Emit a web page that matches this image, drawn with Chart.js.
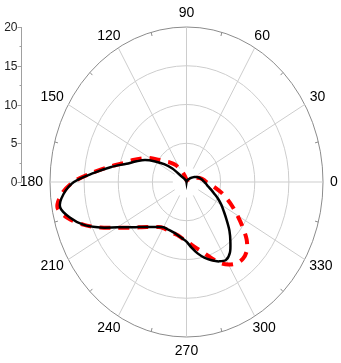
<!DOCTYPE html>
<html>
<head>
<meta charset="utf-8">
<script src="https://cdn.jsdelivr.net/npm/chart.js@4/dist/chart.umd.min.js"></script>
<style>
  body { margin: 0; background: #fff; }
</style>
</head>
<body>
<canvas id="chart" width="341" height="363"></canvas>
<script>
// polar data, angle in degrees (0 = right, counter-clockwise)
const angles = [0, 5, 10, 15, 20, 25, 30, 35, 40, 45, 50, 55, 60, 65, 70, 75, 80, 85,
  90, 95, 100, 105, 110, 115, 120, 125, 130, 135, 140, 145, 150, 155, 160, 165, 170, 175,
  180, 185, 190, 195, 200, 205, 210, 215, 220, 225, 230, 235, 240, 245, 250, 255, 260, 265,
  270, 275, 280, 285, 290, 295, 300, 305, 310, 315, 320, 325, 330, 335, 340, 345, 350, 355];

const solidR = [2.6, 2.4, 2.2, 2.0, 1.8, 1.5, 1.3, 1.0, 0.8, 0.6, 0.45, 0.35, 0.25, 0.2, 0.15, 0.1, 0.05, 0,
  0, 0, 0.05, 0.1, 0.15, 0.2, 0.3, 0.4, 0.6, 1.0, 2.7, 4.0, 5.3, 6.7, 7.8, 9.1, 11.2, 13.6,
  16.5, 18.1, 18.8, 17.7, 16.1, 13.9, 11.7, 10.2, 9.05, 8.2, 7.6, 7.1, 6.75, 6.7, 6.7, 6.8, 7.0, 7.3,
  7.7, 8.5, 9.35, 10.1, 10.75, 11.3, 11.6, 11.1, 10.0, 8.9, 7.7, 6.7, 5.9, 5.1, 4.3, 3.7, 3.2, 2.9];

const dashedR = [2.9, 2.6, 2.3, 2.0, 1.6, 1.3, 1.0, 0.8, 0.6, 0.5, 0.4, 0.35, 0.3, 0.25, 0.2, 0.2, 0.2, 0.2,
  0.2, 0.3, 0.4, 0.7, 1.0, 1.4, 2.0, 2.6, 3.1, 3.6, 4.1, 5.0, 6.2, 7.2, 8.3, 9.5, 11.4, 13.8,
  16.6, 18.4, 19.2, 18.0, 16.1, 13.9, 11.8, 10.3, 9.1, 8.2, 7.6, 7.1, 6.85, 6.8, 6.8, 6.9, 7.0, 7.3,
  7.6, 8.1, 8.7, 9.4, 10.4, 11.5, 12.3, 12.8, 12.9, 12.5, 11.5, 10.0, 8.6, 7.4, 6.3, 5.3, 4.3, 3.5];

const angleLabels = [0, 30, 60, 90, 120, 150, 180, 210, 240, 270, 300, 330];
const radialTicks = [0, 5, 10, 15, 20];
const rMax = 20;

function toXY(rs) {
  const pts = angles.map((a, i) => {
    const t = a * Math.PI / 180;
    return {x: rs[i] * Math.cos(t), y: rs[i] * Math.sin(t)};
  });
  pts.push(pts[0]);
  return pts;
}

const polarGrid = {
  id: 'polarGrid',
  beforeDatasetsDraw(chart) {
    const {ctx, scales: {x, y}} = chart;
    const cx = x.getPixelForValue(0), cy = y.getPixelForValue(0);
    const px = r => x.getPixelForValue(r) - cx;
    const py = r => cy - y.getPixelForValue(r);
    ctx.save();
    ctx.lineWidth = 1;

    // rings
    radialTicks.slice(1).forEach(r => {
      ctx.beginPath();
      ctx.ellipse(cx, cy, px(r), py(r), 0, 0, Math.PI * 2);
      ctx.strokeStyle = r === rMax ? '#8c8c8c' : '#cdcdcd';
      ctx.stroke();
    });

    // spokes
    ctx.strokeStyle = '#cdcdcd';
    angleLabels.forEach(a => {
      const t = a * Math.PI / 180, c = Math.cos(t), s = Math.sin(t);
      ctx.beginPath();
      ctx.moveTo(cx + px(2) * c, cy - py(2) * s);
      ctx.lineTo(cx + px(rMax) * c, cy - py(rMax) * s);
      ctx.stroke();
    });

    // small ticks between spokes
    ctx.strokeStyle = '#8c8c8c';
    angleLabels.forEach(a => {
      const t = (a + 15) * Math.PI / 180, c = Math.cos(t), s = Math.sin(t);
      ctx.beginPath();
      ctx.moveTo(cx + px(rMax) * c, cy - py(rMax) * s);
      ctx.lineTo(cx + px(rMax - 0.5) * c, cy - py(rMax - 0.5) * s);
      ctx.stroke();
    });

    // angle labels
    ctx.font = '14px "Liberation Sans", Arial, sans-serif';
    ctx.fillStyle = '#000';
    ctx.textAlign = 'center';
    ctx.textBaseline = 'middle';
    angleLabels.forEach(a => {
      const t = a * Math.PI / 180, c = Math.cos(t), s = Math.sin(t);
      const w = ctx.measureText(String(a)).width;
      const lx = cx + (px(rMax) + 7) * c + c * w / 2;
      const ly = cy - (py(rMax) + 7) * s - s * 7;
      ctx.fillText(String(a), lx, ly);
    });

    // radial axis on the left
    const ax = 21.5;
    ctx.strokeStyle = '#a0a0a0';
    ctx.beginPath();
    ctx.moveTo(ax, y.getPixelForValue(0));
    ctx.lineTo(ax, y.getPixelForValue(rMax));
    ctx.stroke();
    ctx.font = '12px "Liberation Sans", Arial, sans-serif';
    ctx.fillStyle = '#222';
    ctx.textAlign = 'right';
    radialTicks.forEach((v, i) => {
      const ty = Math.round(y.getPixelForValue(v)) + 0.5;
      ctx.beginPath();
      ctx.moveTo(ax - 4, ty);
      ctx.lineTo(ax, ty);
      ctx.stroke();
      ctx.fillText(String(v), ax - 4, ty);
      if (i < radialTicks.length - 1) {
        const my = Math.round(y.getPixelForValue((v + radialTicks[i + 1]) / 2)) + 0.5;
        ctx.beginPath();
        ctx.moveTo(ax - 2, my);
        ctx.lineTo(ax, my);
        ctx.stroke();
      }
    });
    ctx.restore();
  }
};

new Chart(document.getElementById('chart').getContext('2d'), {
  type: 'scatter',
  data: {
    datasets: [
      {
        data: toXY(solidR),
        showLine: true,
        borderColor: '#000',
        borderWidth: 2.5,
        pointRadius: 0,
        tension: 0.3,
        fill: false
      },
      {
        data: toXY(dashedR),
        showLine: true,
        borderColor: '#ff0000',
        borderWidth: 4,
        borderDash: [11, 8],
        pointRadius: 0,
        tension: 0.3,
        fill: false
      }
    ]
  },
  options: {
    responsive: false,
    animation: false,
    layout: {padding: {left: 50, right: 18, top: 27, bottom: 26}},
    scales: {
      x: {min: -rMax, max: rMax, display: false},
      y: {min: -rMax, max: rMax, display: false}
    },
    plugins: {
      legend: {display: false},
      tooltip: {enabled: false}
    }
  },
  plugins: [polarGrid]
});
</script>
</body>
</html>
